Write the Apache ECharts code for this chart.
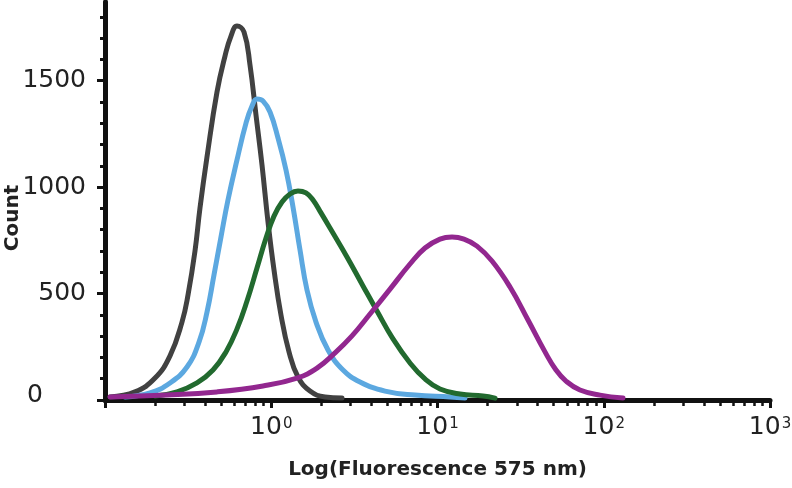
<!DOCTYPE html>
<html>
<head>
<meta charset="utf-8">
<script src="https://cdn.jsdelivr.net/npm/echarts@6/dist/echarts.min.js"></script>
<style>html,body{margin:0;padding:0;background:#fff}#c{width:792px;height:488px}</style>
</head>
<body>
<div id="c"></div>
<script>
// Fluorescence values (linear units) and counts
const grayX = [0.1072,0.1515,0.1999,0.2460,0.2905,0.3157,0.3478,0.3727,0.4107,0.4717,0.5270,0.5726,0.6223,0.6857,0.7450,0.8095,0.8799,0.9561,1.0388,1.1446,1.2787,1.4483,1.7106,2.1053,2.6645];
const grayY = [14,38,103,207,366,493,700,902,1142,1447,1616,1710,1757,1729,1574,1339,1104,836,611,399,226,108,42,14,9];

const blueX = [0.1319,0.1865,0.2460,0.3113,0.3676,0.4107,0.4524,0.4985,0.5492,0.6223,0.7049,0.7659,0.8208,0.8919,0.9828,1.0981,1.2266,1.3513,1.4890,1.6406,1.8587,2.1948,2.7017,3.4191,4.8329,7.3236,11.891,14.636];
const blueY = [14,33,80,155,272,413,587,766,940,1128,1301,1381,1414,1405,1353,1231,1081,907,705,517,366,235,141,85,42,23,14,9];

const greenX = [0.1999,0.2711,0.3575,0.4462,0.5343,0.6223,0.7147,0.8208,0.9299,1.0388,1.1605,1.2965,1.4483,1.6181,1.7831,1.9917,2.2563,2.8549,3.5638,4.3262,5.3996,6.8329,8.4096,10.351,13.654,18.779,22.178];
const greenY = [19,38,80,141,226,334,465,620,761,864,930,968,982,973,940,879,808,672,536,418,287,174,99,52,28,19,9];

const purpleX = [0.1072,0.2360,0.4717,0.8919,1.4284,1.8847,2.4172,3.0597,3.9264,5.1809,6.8329,8.4096,10.351,12.225,14.435,17.283,21.273,27.299,35.035,44.33,51.62,59.29,71.95,94.93,130.5];
const purpleY = [14,23,38,66,103,150,221,301,404,521,639,714,756,766,756,723,653,531,376,226,141,89,47,23,9];

const yMajorTicks = [0, 500, 1000, 1500];
const yMinorTicks = [100,200,300,400,600,700,800,900,1100,1200,1300,1400,1600,1700,1800];
const xMajorTicks = [1, 10, 100, 1000];
const xMinorMultipliers = [2,3,4,5,6,7,8,9];
const xMinorDecades = [0.1, 1, 10, 100];

const xMinorLog = [];
xMinorDecades.forEach(d => xMinorMultipliers.forEach(m => xMinorLog.push(Math.log10(d * m))));

function pairs(xs, ys) { return xs.map((x, i) => [x, ys[i]]); }

const textColor = '#222';
const font = '"DejaVu Sans", Arial, sans-serif';

const chart = echarts.init(document.getElementById('c'));
function mk(name, xs, ys, color) {
  return {
    name, type: 'line', xAxisIndex: 0, yAxisIndex: 0,
    data: pairs(xs, ys), smooth: 0.45, showSymbol: false, symbol: 'none',
    lineStyle: { color, width: 5, cap: 'round', join: 'round' },
    z: 3
  };
}
chart.setOption({
  animation: false,
  backgroundColor: '#fff',
  grid: { left: 105, right: 22, top: 2, bottom: 88, containLabel: false, outerBoundsMode: 'none' },
  graphic: [{
    type: 'text', x: 13, y: 218, rotation: Math.PI / 2, silent: true,
    style: { text: 'Count', fill: textColor, font: 'bold 20px "DejaVu Sans", Arial, sans-serif', align: 'center', verticalAlign: 'middle' }
  }],
  xAxis: [
    {
      type: 'log', logBase: 10, min: 0.1, max: 1000,
      axisLine: { show: true, onZero: false, lineStyle: { color: '#111', width: 5 } },
      axisTick: { show: true, length: 8, lineStyle: { color: '#111', width: 3 } },
      splitLine: { show: false },
      axisLabel: {
        margin: 15,
        color: textColor, fontFamily: font, fontSize: 25,
        formatter: v => {
          const e = Math.round(Math.log10(v));
          return xMajorTicks.indexOf(Math.round(v * 1000) / 1000) >= 0 ? '10{sup|' + e + '}' : '';
        },
        rich: { sup: { fontSize: 15, fontFamily: font, color: textColor, padding: [0, 0, 7, 1] } }
      },
      name: 'Log(Fluorescence 575 nm)', nameLocation: 'middle', nameGap: 60, nameMoveOverlap: false,
      nameTextStyle: { color: textColor, fontFamily: font, fontSize: 20, fontWeight: 'bold' }
    },
    {
      type: 'value', min: -1, max: 3, position: 'bottom',
      axisLine: { show: false, onZero: false },
      axisLabel: { show: false },
      splitLine: { show: false },
      axisTick: { show: true, length: 6, customValues: xMinorLog, lineStyle: { color: '#111', width: 2.5 } }
    }
  ],
  yAxis: [
    {
      type: 'value', min: 0, max: 1870,
      axisLine: { show: true, onZero: false, lineStyle: { color: '#111', width: 5 } },
      axisTick: { show: true, length: 8, customValues: yMajorTicks, lineStyle: { color: '#111', width: 3 } },
      splitLine: { show: false },
      axisLabel: {
        margin: 19, customValues: yMajorTicks,
        color: textColor, fontFamily: font, fontSize: 25,
        formatter: v => v === 0 ? '{z|0}' : String(v),
        rich: { z: { fontSize: 25, fontFamily: font, color: textColor, padding: [0, 43, 10, 0] } }
      }
    },
    {
      type: 'value', min: 0, max: 1870, position: 'left',
      axisLine: { show: false, onZero: false },
      axisLabel: { show: false },
      splitLine: { show: false },
      axisTick: { show: true, length: 5, customValues: yMinorTicks, lineStyle: { color: '#111', width: 3 } }
    }
  ],
  series: [
    mk('A', grayX, grayY, '#414141'),
    mk('B', blueX, blueY, '#5ca8e0'),
    mk('C', greenX, greenY, '#226a2f'),
    mk('D', purpleX, purpleY, '#92278f')
  ]
});
</script>
</body>
</html>
